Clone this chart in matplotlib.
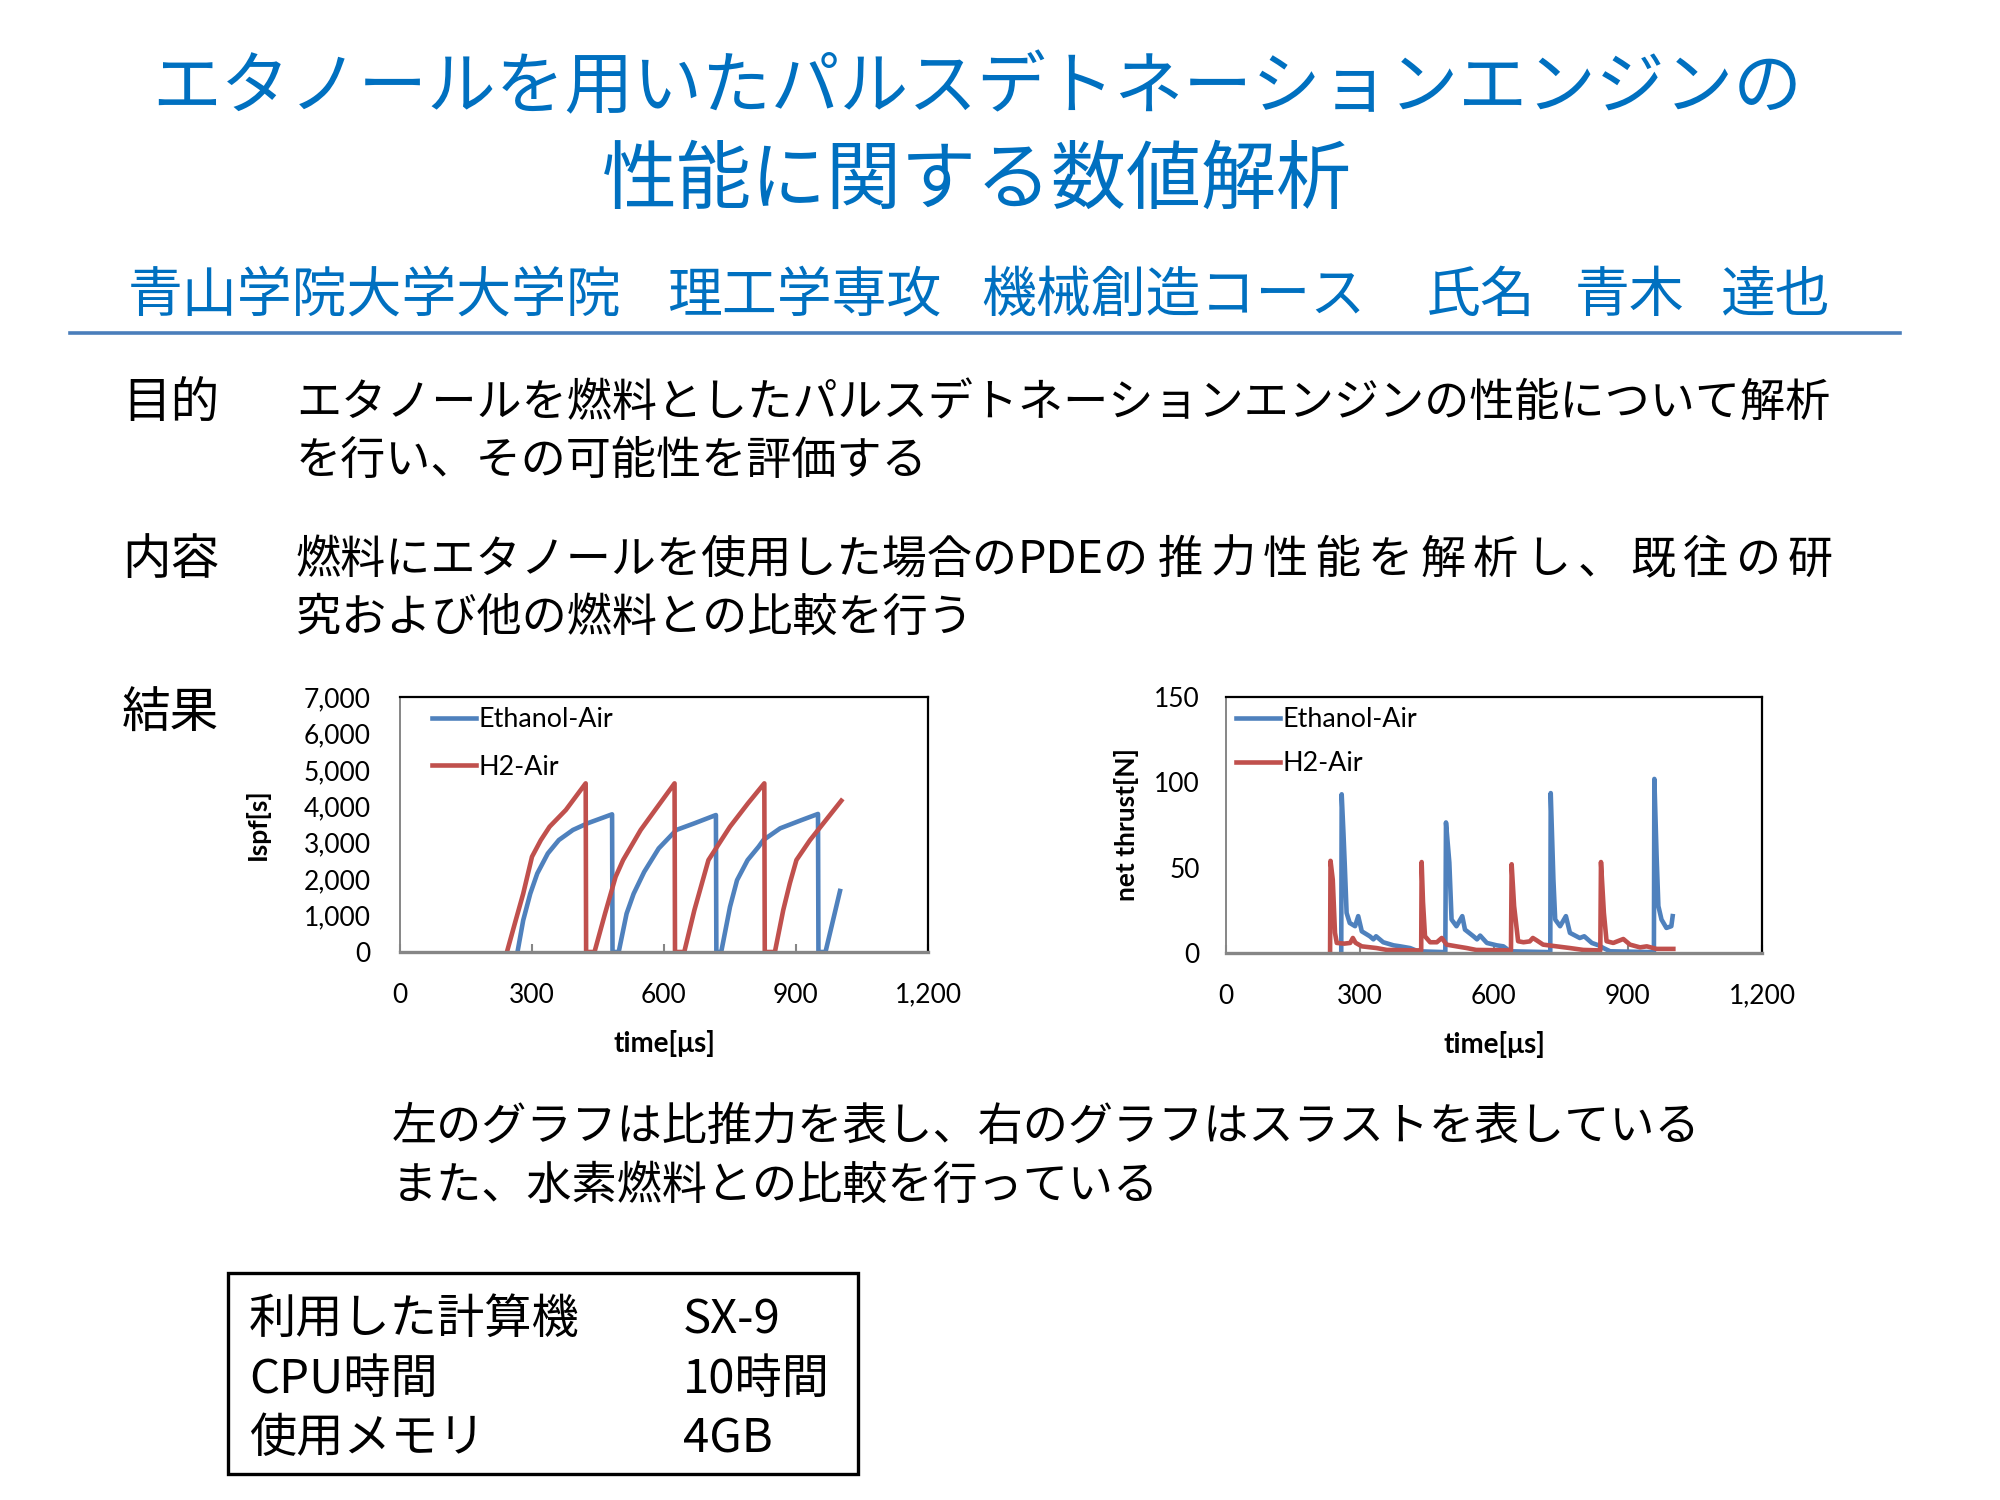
#!/usr/bin/env python3
"""Poster page: ethanol PDE analysis with Ispf and net thrust charts."""

import matplotlib
matplotlib.use("Agg")
import matplotlib.pyplot as plt
from matplotlib.patches import Rectangle
from matplotlib.ticker import FuncFormatter

W, H = 2000, 1500
JP = ["Noto Sans CJK JP", "DejaVu Sans"]
LAT = ["Lato", "DejaVu Sans"]
TITLE_BLUE = "#0070C0"
RULE_BLUE = "#4A7EBB"
ETH_COLOR = "#4F81BD"
H2_COLOR = "#C0504D"
AXIS_GRAY = "#868686"

title_lines = ["エタノールを用いたパルスデトネーションエンジンの", "性能に関する数値解析"]
author_parts = ["青山学院大学大学院", "理工学専攻", "機械創造コース", "氏名", "青木", "達也"]
author_x = [128, 667, 981, 1426, 1575, 1720]

headings = ["目的", "内容", "結果"]
purpose_lines = ["エタノールを燃料としたパルスデトネーションエンジンの性能について解析",
                 "を行い、その可能性を評価する"]
# first content line is justified in the original, so it is drawn in pieces
content_parts = ["燃料にエタノールを使用した場合の", "PDE", "の", "推力性能を解析し、既往の研"]
content_line2 = "究および他の燃料との比較を行う"
caption_lines = ["左のグラフは比推力を表し、右のグラフはスラストを表している",
                 "また、水素燃料との比較を行っている"]
spec_names = ["利用した計算機", "CPU時間", "使用メモリ"]
spec_values = ["SX-9", "10時間", "4GB"]

series_names = ["Ethanol-Air", "H2-Air"]

# specific impulse Ispf [s] vs time [us]
ispf_eth_t = [267, 280, 296, 312, 336, 361, 393, 426, 482, 483, 497, 515, 531, 555,
              588, 628, 669, 718, 719, 730, 750, 766, 790, 815, 826, 864, 913, 950,
              951, 967, 1000]
ispf_eth_v = [0, 870, 1600, 2156, 2706, 3073, 3350, 3532, 3780, 0, 0, 1055, 1600, 2200,
              2844, 3350, 3532, 3760, 0, 0, 1239, 1972, 2523, 2890, 3074, 3395, 3623, 3790,
              0, 0, 1675]
ispf_h2_t = [243, 263, 280, 300, 320, 340, 377, 422, 423, 442, 466, 490, 507, 547, 580,
             624, 625, 646, 669, 701, 750, 791, 828, 829, 852, 871, 886, 901, 932, 1003]
ispf_h2_v = [0, 870, 1600, 2615, 3070, 3440, 3900, 4630, 0, 0, 1055, 2064, 2523, 3350,
             3900, 4630, 0, 0, 1147, 2523, 3440, 4083, 4630, 0, 0, 1150, 1887, 2525, 3074,
             4154]

# net thrust [N] vs time [us]
thrust_eth_t = [258, 259, 263, 266, 270, 277, 289, 296, 304, 322, 330, 336, 352, 375, 390,
                412, 430, 491, 492.5, 500, 505, 516, 529, 535, 554, 562, 569, 584, 606, 621,
                636, 726, 727, 733, 737, 748, 761, 770, 792, 802, 819, 834, 845, 860, 958,
                959, 964, 968, 975, 986, 997, 1000]
thrust_eth_v = [0, 93, 70, 51, 23.5, 17.6, 15.7, 21.6, 12.7, 9.8, 8, 9.8, 6.3, 4.5, 3.9,
                2.9, 1, 0.5, 76.5, 53, 19.6, 15.7, 21.6, 13.7, 9.8, 8, 10.2, 5.9, 4.5, 3.9,
                1, 0.5, 93.7, 43, 19.6, 15.7, 21.6, 11.8, 8.8, 9.8, 5.9, 4.5, 2.9, 1, 0.5,
                102, 57, 27.5, 19.6, 14.7, 15.7, 21.6]
thrust_h2_t = [233, 234, 239, 244, 248, 265, 278, 284, 290, 304, 337, 360, 430, 437, 438,
               441, 445.5, 457, 472, 483, 494, 516, 539, 560, 638, 639.5, 645, 654, 666,
               680, 687, 695, 710, 740, 770, 800, 838, 839.5, 846, 852, 867, 889.5, 904.5,
               927, 942, 964, 1001.5]
thrust_h2_v = [0, 54, 43, 11.8, 5.9, 5.5, 5.9, 8.8, 6, 3.9, 2.9, 1.8, 1.5, 1.5, 53.3,
               30, 9.8, 6.3, 6.3, 8.8, 4.9, 3.9, 2.9, 1.8, 1.5, 52, 27.5, 6.9, 6.3,
               6.8, 8.8, 7.5, 4.9, 3.9, 2.9, 1.8, 1.5, 53.3, 23.5, 6.9, 5.9, 8.2, 4.9,
               3.3, 3.9, 2.4, 2.4]

x_ticks = [0, 300, 600, 900, 1200]
ispf_ticks = [0, 1000, 2000, 3000, 4000, 5000, 6000, 7000]
thrust_ticks = [0, 50, 100, 150]


def fx(px):
    return px / W


def fy(py):
    return 1 - py / H


def put(fig, px, py, s, size, color="black", ha="left"):
    # small downward nudge: CJK bbox centre sits above the glyph centre
    fig.text(fx(px), fy(py + 5), s, fontsize=size, color=color, ha=ha, va="center",
             family=JP)


def style_chart(ax, ylim, yticks, ylabel, ylabel_x, ypad):
    ax.set_xlim(0, 1200)
    ax.set_ylim(*ylim)
    ax.set_xticks(x_ticks)
    ax.set_yticks(yticks)
    fmt = FuncFormatter(lambda v, p: f"{int(v):,}")
    ax.xaxis.set_major_formatter(fmt)
    ax.yaxis.set_major_formatter(fmt)
    ax.tick_params(axis="x", direction="in", length=6, width=1.5, color=AXIS_GRAY,
                   pad=22, labelsize=19)
    ax.tick_params(axis="y", length=0, pad=ypad, labelsize=19)
    for lab in ax.get_xticklabels() + ax.get_yticklabels():
        lab.set_family(LAT)
    for side in ("top", "right"):
        ax.spines[side].set_color("black")
        ax.spines[side].set_linewidth(1.6)
    ax.spines["left"].set_color(AXIS_GRAY)
    ax.spines["left"].set_linewidth(1.4)
    ax.spines["bottom"].set_color(AXIS_GRAY)
    ax.spines["bottom"].set_linewidth(2.4)
    ax.set_xlabel("time[μs]", fontsize=20, fontweight="bold", family=LAT)
    ax.xaxis.set_label_coords(0.5, -0.306)
    ax.set_ylabel(ylabel, fontsize=19, fontweight="bold", family=LAT)
    ax.yaxis.set_label_coords(ylabel_x, 0.5)


def add_legend(ax, x_anchor, spacing):
    return ax.legend(loc="upper left", bbox_to_anchor=(x_anchor, 0.959), frameon=False,
                     handlelength=1.63, handletextpad=0.1, labelspacing=spacing,
                     borderpad=0, borderaxespad=0, prop={"family": LAT, "size": 19.4})


def main():
    fig = plt.figure(figsize=(20, 15), dpi=100)

    # title block
    put(fig, 977, 84, title_lines[0], 49.5, TITLE_BLUE, ha="center")
    put(fig, 977, 176, title_lines[1], 54, TITLE_BLUE, ha="center")
    for s, x in zip(author_parts, author_x):
        put(fig, x, 291, s, 39.5, TITLE_BLUE)
    fig.add_artist(plt.Line2D([fx(70), fx(1900)], [fy(333), fy(333)],
                              color=RULE_BLUE, lw=2.6))

    # body
    for s, y in zip(headings, [398, 555, 709]):
        put(fig, 122, y, s, 35)
    put(fig, 296, 398, purpose_lines[0], 32.5)
    put(fig, 296, 456, purpose_lines[1], 32.5)
    put(fig, 296, 555, content_parts[0], 32.5)
    put(fig, 1018, 555, content_parts[1], 32.5)
    put(fig, 1102, 555, content_parts[2], 32.5)
    for i, ch in enumerate(content_parts[3]):
        put(fig, 1158 + i * 52.5, 555, ch, 32.5)
    put(fig, 296, 613, content_line2, 32.5)
    put(fig, 392, 1122, caption_lines[0], 32.5)
    put(fig, 392, 1181, caption_lines[1], 32.5)

    # specific impulse chart
    ax1 = fig.add_axes([fx(400), fy(952), (928 - 400) / W, (952 - 697) / H])
    ax1.plot(ispf_eth_t, ispf_eth_v, color=ETH_COLOR, lw=3.3, label=series_names[0])
    ax1.plot(ispf_h2_t, ispf_h2_v, color=H2_COLOR, lw=3.3, label=series_names[1])
    style_chart(ax1, (0, 7000), ispf_ticks, "Ispf[s]", -0.246, 21)
    add_legend(ax1, 0.061, 0.82)

    # net thrust chart
    ax2 = fig.add_axes([fx(1226), fy(953), (1762 - 1226) / W, (953 - 697) / H])
    ax2.plot(thrust_eth_t, thrust_eth_v, color=ETH_COLOR, lw=3.3, label=series_names[0])
    ax2.plot(thrust_h2_t, thrust_h2_v, color=H2_COLOR, lw=3.3, label=series_names[1])
    style_chart(ax2, (0, 150), thrust_ticks, "net thrust[N]", -0.163, 19)
    add_legend(ax2, 0.019, 0.7)

    # computer spec box
    fig.add_artist(Rectangle((fx(228), fy(1474)), (858 - 228) / W, (1474 - 1273) / H,
                             transform=fig.transFigure, fill=False, ec="black", lw=2.4))
    for i, (name, val) in enumerate(zip(spec_names, spec_values)):
        y = [1315, 1375, 1434][i]
        put(fig, 249, y, name, 34)
        put(fig, 683, y, val, 34)

    fig.savefig("out.png", dpi=100, facecolor="white")


if __name__ == "__main__":
    main()
